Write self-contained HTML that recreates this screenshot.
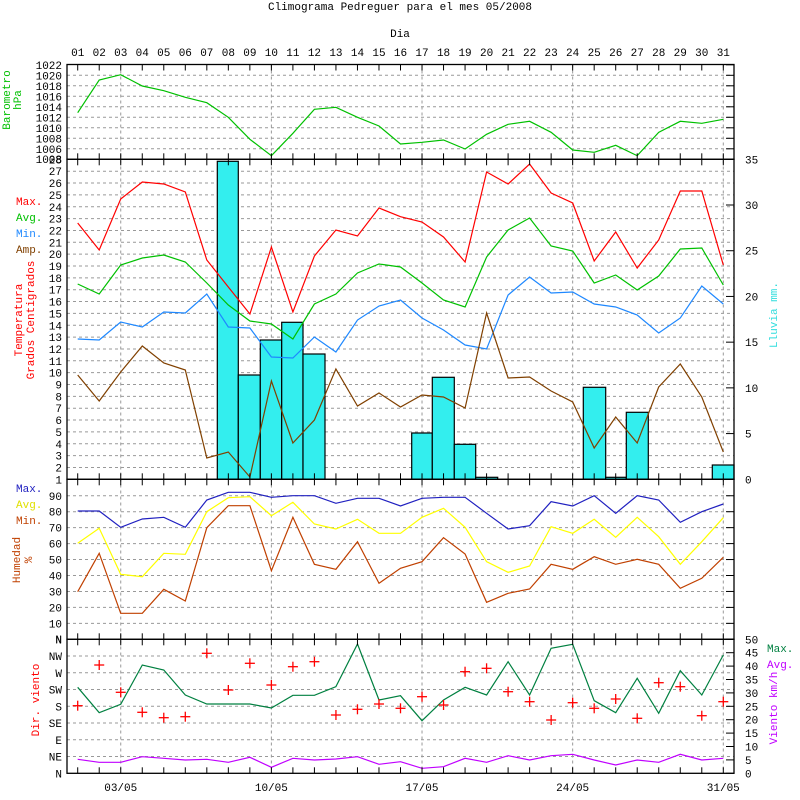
<!DOCTYPE html>
<html><head><meta charset="utf-8"><style>
html,body{margin:0;padding:0;background:#fff;}
svg{display:block;font-family:"Liberation Mono","DejaVu Sans Mono",monospace;font-size:11px;}
</style></head><body>
<svg id="s" width="800" height="800" xmlns="http://www.w3.org/2000/svg">
<text x="400" y="10" text-anchor="middle">Climograma Pedreguer para el mes 05/2008</text>
<text x="400" y="37" text-anchor="middle">Dia</text>
</svg>
<script>
const S=document.getElementById('s');let h='';
const X0=67,X1=734,dx=21.52,xd=d=>77.7+(d-1)*dx;
const L=(a,b,c,d,st)=>h+=`<line x1="${a}" y1="${b}" x2="${c}" y2="${d}" ${st}/>`;
const T=(x,y,t,st)=>h+=`<text x="${x}" y="${y}" ${st||''}>${t}</text>`;
const dash='stroke="#999" stroke-dasharray="3,3" stroke-width="1"';
const poly=(ys,c)=>h+=`<polyline fill="none" stroke="${c}" stroke-width="1.2" points="${ys.map((y,i)=>xd(i+1).toFixed(1)+','+y).join(' ')}"/>`;
// day labels
for(let d=1;d<=31;d++)T(xd(d),56,String(d).padStart(2,'0'),'text-anchor="middle"');
const panels=[[64.5,159.3],[159.3,479.3],[479.3,639.3],[639.3,773.3]];
// horizontal grids
// baro
for(let v=1006;v<=1020;v+=2){let y=159.3-(v-1004)*5.25;L(X0,y,X1,y,dash);}
for(let v=1006;v<=1022;v+=2){let y=159.3-(v-1004)*5.25;T(62,y+4,v,'text-anchor="end"');}
T(62,163,'1008','text-anchor="end"');
for(let v=2;v<=27;v++){let y=479.3-(v-1)*11.85;L(X0,y,X1,y,dash);}
for(let v=1;v<=28;v++){let y=479.3-(v-1)*11.85;T(62,y+4,v,'text-anchor="end"');}
for(let v=10;v<=90;v+=10){let y=639.3-v*1.595;L(X0,y,X1,y,dash);T(62,y+4,v,'text-anchor="end"');}
const dirs=['N','NW','W','SW','S','SE','E','NE','N'];
dirs.forEach((t,i)=>{let y=639.3+i*16.75;if(i>0&&i<8)L(X0,y,X1,y,dash);T(62,y+4,t,'text-anchor="end"');});
T(62,643,'N','text-anchor="end"');
// right axes
for(let v=0;v<=35;v+=5){let y=479.3-v*9.143;T(745,y+4,v);L(726,y,734,y,'stroke="#000"');}
for(let v=0;v<=50;v+=5){let y=773.3-v*2.68;T(745,y+4,v);L(726,y,734,y,'stroke="#000"');}
for(let v=0;v<=90;v+=10){let y=639.3-v*1.595;L(726,y,734,y,'stroke="#000"');}
for(let v=1006;v<=1022;v+=2){let y=159.3-(v-1004)*5.25;L(726,y,734,y,'stroke="#000"');}
// vertical grids
[3,10,17,24,31].forEach(d=>L(xd(d),64.5,xd(d),773.3,dash));
// rain bars
const bars=[[217.3,238.3,161.3],[238.3,260.3,375],[260.3,281.7,340],[281.7,303,322.3],[303,325,354],[411.7,432.3,433],[432.3,454.3,377.3],[454.3,475.7,444.3],[475.7,497.7,477.3],[583.3,605.7,387.3],[605.7,626.3,477.3],[626.3,648.3,412.3],[712.3,734,465]];
bars.forEach(b=>h+=`<rect x="${b[0]}" y="${b[2]}" width="${b[1]-b[0]}" height="${479.3-b[2]}" fill="#33eeee" stroke="#000" stroke-width="1.2"/>`);
// series
poly([112.7,80,74.7,86,90.7,97.3,102.7,117.3,139.3,155.7,133.3,109.3,107.3,117.3,126,144,142.3,140,149,134.3,124.3,121.3,132.3,150,152.3,145.3,155.7,132.3,121.3,123.3,119.3],'#00c000');
poly([223,250,199,182,184,192,260,287,314,247,312,256,230,236,208,216.7,222,237,262,172,184,164,193,203,261,232,268,240,191,191,265],'#ff0000');
poly([284,294,265,258,255,262,283,305,321,324,339,304,294,273,264,267,283,300,307,257,230,218,246,251,283,275,290,276,249,248,285],'#00c000');
poly([339,340,322,327,312,313,294,327,328,357,358,337,352,320,306,300,318,330,345,349,295,277,293,292,304,307,315,333,318,286,304],'#1e88ff');
poly([375,401,372,346,363,370,458,452,477,381,443,420,369,406,393,407,395,397,408,313,378,377,391,402,448,417,443,387,364,397,452],'#804000');
poly([511,511,527.3,519,517.3,527.3,500,492.3,492.3,497.3,495.7,495.7,503.3,498.3,498.3,506,498.3,497.3,497.3,513.3,529,525.7,501.7,506,495.7,513.3,495.7,500,522.3,511.7,504],'#2020c0');
poly([543.3,528.3,574.3,576.7,553.3,554.3,511.7,497.7,496.7,515.7,502.3,524,529,519.3,533.3,533.3,517.3,508.3,527.3,561.7,572.3,566,526.7,533.3,519.3,537.3,517.3,536.7,564.3,541.7,517.7],'#ffff00');
poly([591.7,553.3,613.3,613.3,589.3,601,527.7,505.7,505.7,570.7,517.3,564.3,569.3,541.7,583.3,568.3,561.7,537.7,554,602.3,593.3,589,564.3,569.3,556.7,564.3,559.3,564.3,588.3,578.3,557.3],'#c04000');
poly([687.3,712.7,704.3,665,670,695,704,704,704,708,695.3,695.3,686.7,644,700,695.7,720.7,700,687.3,695,661.7,695,648.3,644.3,700.7,712.7,678.3,713.3,670.7,695,655],'#008040');
poly([759.3,762.3,762.3,756.7,758.3,760,759.3,762.3,757.3,767.3,758.3,760,759,756.7,764.3,761.7,768.3,766.7,758.3,762.3,755.7,760,755.7,754.3,760,765,760,762.3,754.3,760,758.3],'#c000ff');
[705.7,665,692.3,712.3,717.7,716.7,653.3,690,663.3,685,666.7,661.7,715,709.3,704,708.3,696.7,705,671.7,668.3,691.7,701.7,720,702.7,708.3,699,718.3,682.7,686.7,715.7,701.7].forEach((y,i)=>{let x=xd(i+1);L(x-5,y,x+5,y,'stroke="#f00" stroke-width="1.3"');L(x,y-5,x,y+5,'stroke="#f00" stroke-width="1.3"');});
// panel frames & ticks
panels.forEach(p=>{h+=`<rect x="${X0}" y="${p[0]}" width="${X1-X0}" height="${p[1]-p[0]}" fill="none" stroke="#000" stroke-width="1.3"/>`;
for(let d=1;d<=31;d++){let x=xd(d);L(x,p[0],x,p[0]+6,'stroke="#000"');L(x,p[1]-6,x,p[1],'stroke="#000"');}});
// legends
T(16,205,'Max.','fill="#f00"');T(16,221,'Avg.','fill="#00c000"');T(16,237,'Min.','fill="#1e88ff"');T(16,253,'Amp.','fill="#804000"');
T(16,492,'Max.','fill="#2020c0"');T(16,508,'Avg.','fill="#e0e000"');T(16,524,'Min.','fill="#c04000"');
T(767,652,'Max.','fill="#008040"');T(767,668,'Avg.','fill="#c000ff"');
const R=(x,y,t,c)=>h+=`<text transform="translate(${x},${y}) rotate(-90)" text-anchor="middle" fill="${c}">${t}</text>`;
R(10,100,'Barometro','#00c000');R(21,100,'hPa','#00c000');
R(22,320,'Temperatura','#f00');R(34,320,'Grados Centigrados','#f00');
R(20,560,'Humedad','#c04000');R(32,560,'%','#c04000');
R(39,700,'Dir. viento','#f00');
R(777,708,'Viento km/h','#c000ff');R(777,315,'Lluvia mm.','#33dddd');
[['03/05',3],['10/05',10],['17/05',17],['24/05',24],['31/05',31]].forEach(a=>T(xd(a[1]),791,a[0],'text-anchor="middle"'));
S.insertAdjacentHTML('beforeend',h);
</script>
</body></html>
